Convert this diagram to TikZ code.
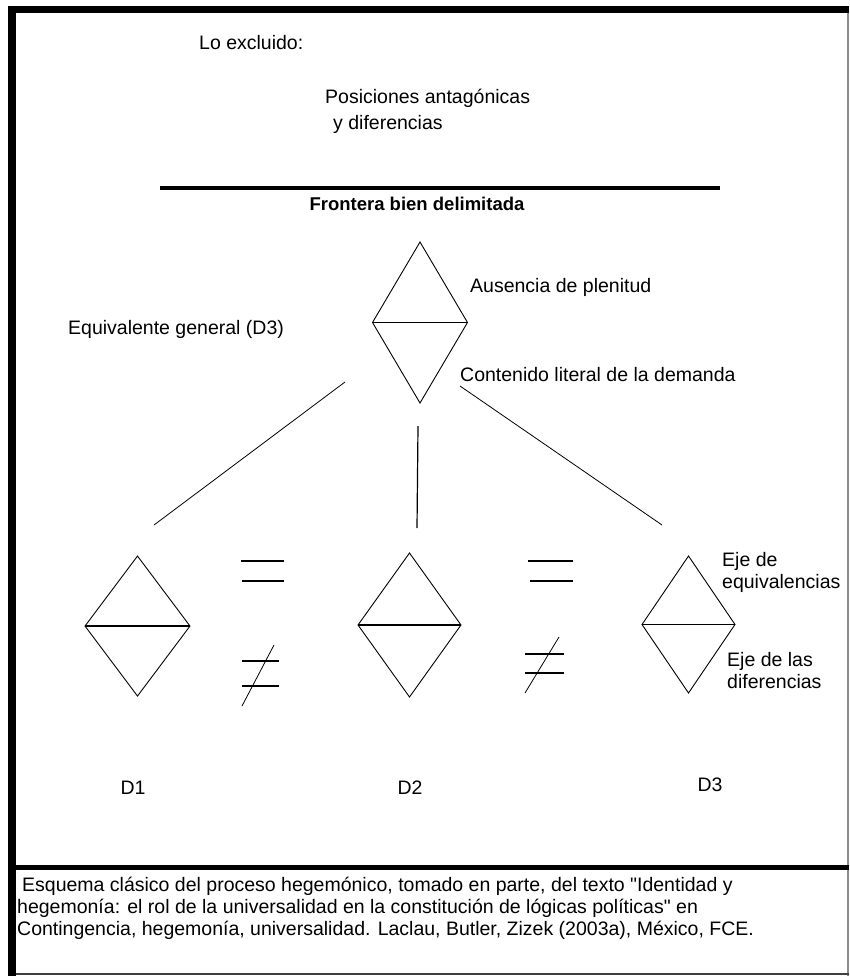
\documentclass[tikz,border=0pt]{standalone}
\usepackage{fontspec}
\setmainfont{Liberation Sans}
\usetikzlibrary{shapes.geometric, positioning}

\begin{document}
\begin{tikzpicture}[
    x=1pt, y=-1pt,
    rombo/.style 2 args={draw, diamond, line width=0.9pt, minimum width=#1, minimum height=#2, inner sep=0pt, outer sep=0pt},
    texto/.style={font=\fontsize{19.5}{22}\selectfont, inner sep=0pt, anchor=base west},
    etiqueta/.style={font=\fontsize{19.5}{22}\selectfont, inner sep=0pt, anchor=base},
    eje/.style={line width=1.8pt},
    signo/.style={line width=1.6pt},
    raya/.style={line width=0.8pt}
]
    \useasboundingbox (0,0) rectangle (849,976);

    % Marco
    \fill (8,6) rectangle (849,13);
    \fill (8,6) rectangle (16,976);
    \draw[line width=1.5pt, black!45] (848,13) -- (848,976);
    \draw[line width=2pt, black!75] (16,974) -- (849,974);
    \fill (16,865) rectangle (849,870);

    % Lo excluido
    \node[texto] (excluido) at (199,50) {Lo excluido:};
    \node[texto] (posiciones) at (325,104) {Posiciones antagónicas};
    \node[texto] (diferencias) at (333,130) {y diferencias};

    % Frontera
    \coordinate (fronteraA) at (160,188);
    \coordinate (fronteraB) at (720,188);
    \draw[line width=4pt] (fronteraA) -- (fronteraB);
    \node[etiqueta, font=\fontsize{18.5}{22}\selectfont\bfseries] (frontera) at (417,211) {Frontera bien delimitada};

    % Equivalente general
    \node[rombo={95pt}{161pt}] (general) at (420,322.5) {};
    \draw[eje] (general.west) -- (general.east);
    \node[texto] (ausencia) at (470,292) {Ausencia de plenitud};
    \node[texto] (equivalente) at (68,334) {Equivalente general (D3)};
    \node[texto] (contenido) at (460,381) {Contenido literal de la demanda};

    % Demandas
    \node[rombo={105pt}{140pt}] (d1) at (137.5,626) {};
    \node[rombo={103pt}{144pt}] (d2) at (409.5,625) {};
    \node[rombo={93pt}{137pt}] (d3) at (688.5,624.5) {};
    \draw[eje] (d1.west) -- (d1.east);
    \draw[eje] (d2.west) -- (d2.east);
    \draw[eje] (d3.west) -- (d3.east);

    \node[etiqueta] (nombre1) at (133,794) {D1};
    \node[etiqueta] (nombre2) at (410,794) {D2};
    \node[etiqueta] (nombre3) at (710,791) {D3};

    \node[texto, anchor=north west, align=left] (equivalencias) at (722,552) {Eje de\\equivalencias};
    \node[texto, anchor=north west, align=left] (lasdif) at (727,652) {Eje de las\\diferencias};

    % Conexiones
    \coordinate (izqA) at (345,382);
    \coordinate (izqB) at (154,525);
    \coordinate (cenA) at (418,426);
    \coordinate (cenB) at (417,528);
    \coordinate (derA) at (460,386);
    \coordinate (derB) at (662,525);
    \draw[raya] (izqA) -- (izqB);
    \draw[line width=1.2pt] (cenA) -- (cenB);
    \draw[raya] (derA) -- (derB);

    % Signos
    \draw[signo] (241,561) -- (284,561) (242,581) -- (284,581);
    \draw[signo] (242,661) -- (279,661) (242,686) -- (279,686);
    \draw[raya] (242,706) -- (274,645);
    \draw[signo] (528,561) -- (573,561) (530,581) -- (573,581);
    \draw[signo] (525,654) -- (564,654) (525,673) -- (564,673);
    \draw[raya] (525,693) -- (559,637);

    % Nota
    \node[texto, anchor=north west, align=left] (nota) at (17,877) {\hspace*{5pt}Esquema clásico del proceso hegemónico, tomado en parte, del texto \textquotedbl Identidad y\\hegemonía: el rol de la universalidad en la constitución de lógicas políticas\textquotedbl{} en\\Contingencia, hegemonía, universalidad. Laclau, Butler, Zizek (2003a), México, FCE.};
\end{tikzpicture}
\end{document}
